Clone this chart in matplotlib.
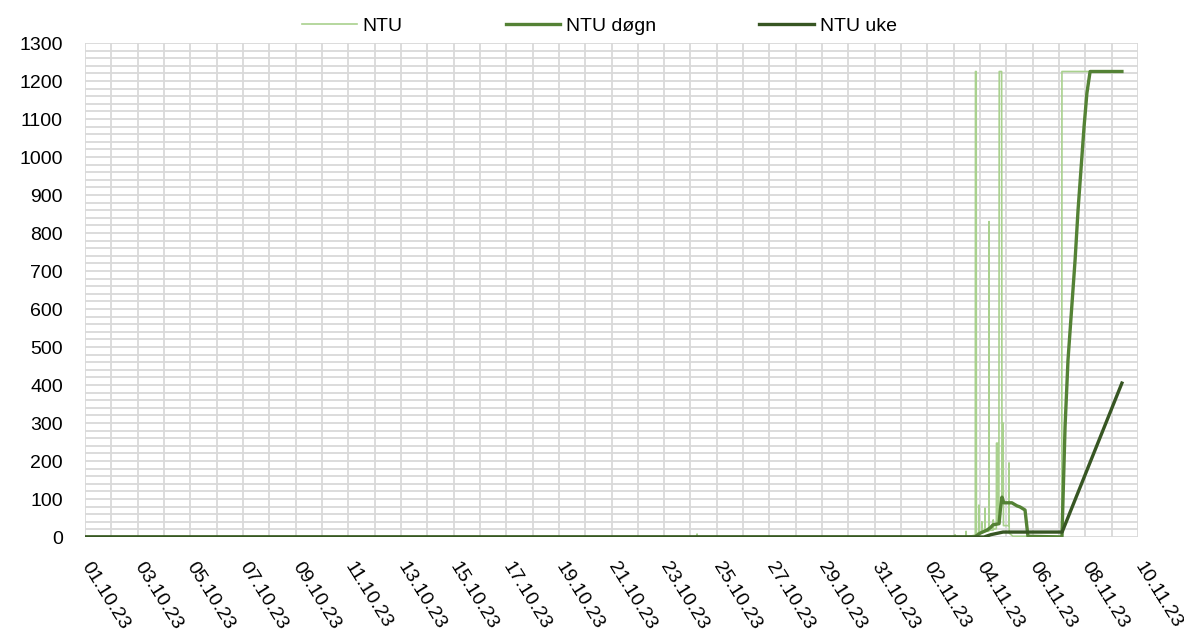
import matplotlib
matplotlib.use("Agg")
import matplotlib.pyplot as plt
import matplotlib.dates as mdates
import matplotlib.ticker as mticker
import pandas as pd

# ---- data ----
ntu_time = [
    "2023-10-01 00:00", "2023-10-24 05:45", "2023-10-24 06:00", "2023-10-24 06:15",
    "2023-11-03 01:00", "2023-11-03 01:10", "2023-11-03 01:20",
    "2023-11-03 11:00", "2023-11-03 11:15", "2023-11-03 11:30",
    "2023-11-03 19:40", "2023-11-03 19:50", "2023-11-03 20:30", "2023-11-03 20:40",
    "2023-11-03 22:50", "2023-11-03 23:00", "2023-11-03 23:10",
    "2023-11-04 01:30", "2023-11-04 01:40", "2023-11-04 01:50",
    "2023-11-04 04:20", "2023-11-04 04:30", "2023-11-04 04:40",
    "2023-11-04 08:00", "2023-11-04 08:10", "2023-11-04 08:20",
    "2023-11-04 11:50", "2023-11-04 12:00", "2023-11-04 12:10",
    "2023-11-04 14:50", "2023-11-04 15:00", "2023-11-04 16:00", "2023-11-04 16:20",
    "2023-11-04 17:10", "2023-11-04 17:30", "2023-11-04 19:40",
    "2023-11-04 20:00", "2023-11-04 21:00", "2023-11-04 21:20",
    "2023-11-05 02:15", "2023-11-05 02:25", "2023-11-05 02:35",
    "2023-11-05 06:00", "2023-11-07 02:30", "2023-11-07 02:40",
    "2023-11-09 09:20",
]
ntu_val = [
    0, 0, 8, 0,
    0, 6, 0,
    0, 15, 0,
    5, 1225, 1225, 10,
    10, 84, 12,
    12, 40, 14,
    14, 76, 15,
    15, 830, 18,
    18, 45, 20,
    22, 247, 247, 40,
    40, 1225, 1225,
    90, 300, 30,
    30, 195, 10,
    2, 2, 1225,
    1225,
]

dogn_time = [
    "2023-10-01 00:00", "2023-11-03 19:10", "2023-11-04 00:00", "2023-11-04 06:15",
    "2023-11-04 09:40", "2023-11-04 11:45", "2023-11-04 17:20", "2023-11-04 18:40",
    "2023-11-04 20:00", "2023-11-04 21:40", "2023-11-05 05:00", "2023-11-05 09:40",
    "2023-11-05 12:30", "2023-11-05 17:00", "2023-11-05 19:40", "2023-11-07 02:40",
    "2023-11-07 05:30", "2023-11-07 08:10", "2023-11-07 14:40", "2023-11-07 17:20",
    "2023-11-07 22:50", "2023-11-08 01:25", "2023-11-08 04:20", "2023-11-09 09:20",
]
dogn_val = [
    0, 0, 10, 18,
    25, 32, 35, 76,
    105, 90, 90, 82,
    79, 71, 2, 0,
    290, 465, 730, 860,
    1080, 1168, 1225, 1225,
]

uke_time = [
    "2023-10-01 00:00", "2023-11-04 03:40", "2023-11-04 09:40", "2023-11-04 21:00",
    "2023-11-07 02:50", "2023-11-09 09:20",
]
uke_val = [0, 0, 6, 13, 13, 405]

series_labels = ["NTU", "NTU døgn", "NTU uke"]
series_colors = ["#a9d18e", "#548235", "#375623"]

x_tick_labels = [
    "01.10.23", "03.10.23", "05.10.23", "07.10.23", "09.10.23", "11.10.23",
    "13.10.23", "15.10.23", "17.10.23", "19.10.23", "21.10.23", "23.10.23",
    "25.10.23", "27.10.23", "29.10.23", "31.10.23", "02.11.23", "04.11.23",
    "06.11.23", "08.11.23", "10.11.23",
]

x_start = "2023-10-01"
x_end = "2023-11-10"

# ---- plot ----
plt.rcParams["font.family"] = ["Liberation Sans", "DejaVu Sans"]
fig = plt.figure(figsize=(11.84, 6.37), dpi=100)
ax = fig.add_axes([85 / 1184, 1 - 537 / 637, (1138 - 85) / 1184, (537 - 43) / 637])

t_ntu = pd.to_datetime(ntu_time)
t_dogn = pd.to_datetime(dogn_time)
t_uke = pd.to_datetime(uke_time)

ax.plot(t_ntu, ntu_val, color=series_colors[0], lw=1.2, label=series_labels[0], zorder=3)
ax.plot(t_dogn, dogn_val, color=series_colors[1], lw=2.4, label=series_labels[1], zorder=4,
        solid_joinstyle="round")
ax.plot(t_uke, uke_val, color=series_colors[2], lw=2.4, label=series_labels[2], zorder=5)

ax.set_xlim(pd.Timestamp(x_start), pd.Timestamp(x_end))
ax.set_ylim(0, 1300)

ax.yaxis.set_major_locator(mticker.MultipleLocator(100))
ax.yaxis.set_minor_locator(mticker.MultipleLocator(20))

tick_dates = pd.to_datetime(x_tick_labels, format="%d.%m.%y")
minor_dates = pd.date_range(x_start, x_end, freq="1D")
ax.xaxis.set_major_locator(mticker.FixedLocator(mdates.date2num(tick_dates)))
ax.xaxis.set_minor_locator(mticker.FixedLocator(mdates.date2num(minor_dates)))
ax.xaxis.set_major_formatter(mticker.FixedFormatter(x_tick_labels))

ax.grid(True, which="both", color="#d9d9d9", lw=1.3, zorder=0)
ax.set_axisbelow(True)
for s in ax.spines.values():
    s.set_visible(False)

ax.tick_params(axis="both", which="both", length=0)
ax.tick_params(axis="y", labelsize=14, pad=16, labelcolor="#000000")
ax.tick_params(axis="x", labelsize=14, pad=19)
for lab in ax.get_xticklabels():
    lab.set_rotation(-58)
    lab.set_ha("left")
    lab.set_va("center")
    lab.set_rotation_mode("anchor")

fig.legend(loc="center", bbox_to_anchor=(599.5 / 1184, 1 - 26 / 637), ncol=3, frameon=False,
           fontsize=14, handlelength=2.8, handletextpad=0.3, columnspacing=5.3)

fig.savefig("out.png", dpi=100)
